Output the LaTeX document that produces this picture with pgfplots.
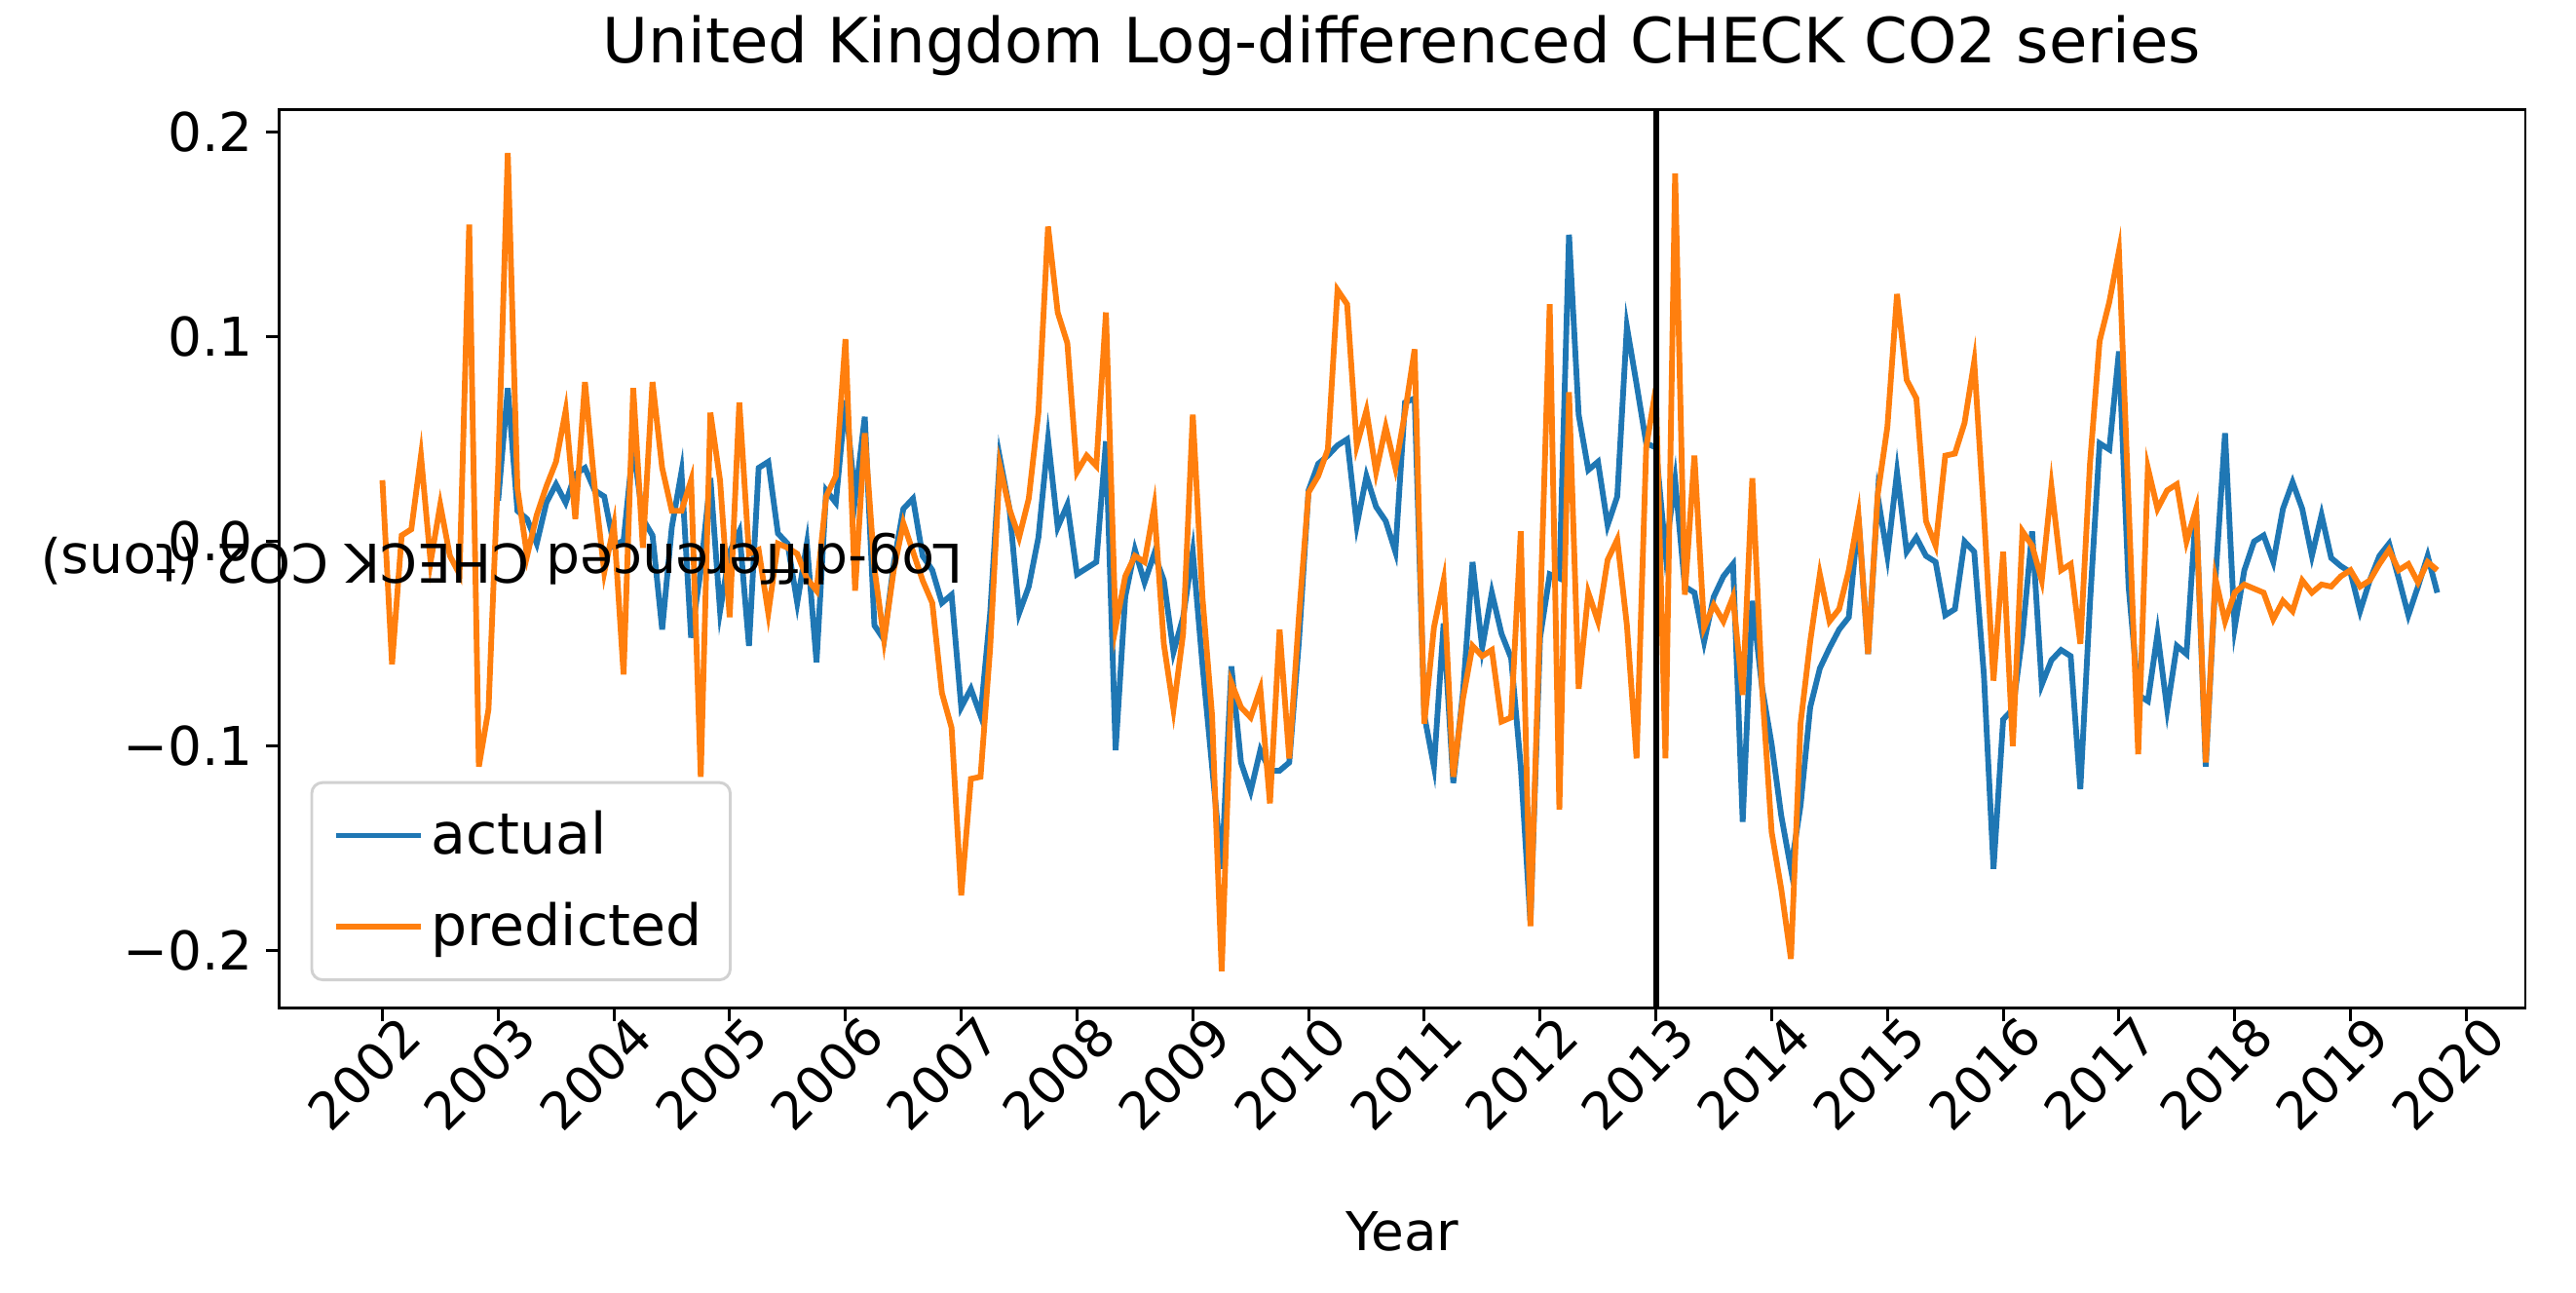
\documentclass[border=0pt]{standalone}
\usepackage{pgfplots}
\pgfplotsset{compat=1.18}
\usepackage{pgfplotstable}
\usepackage{fontspec}
\setmainfont{DejaVu Sans}
\definecolor{tabblue}{HTML}{1F77B4}
\definecolor{taborange}{HTML}{FF7F0E}
\pgfplotstableread{
v
0.020
0.075
0.015
0.011
-0.001
0.019
0.028
0.019
0.033
0.036
0.025
0.022
-0.002
0.0005
0.047
0.011
0.003
-0.043
0.007
0.034
-0.047
-0.014
0.031
-0.034
-0.005
0.005
-0.051
0.036
0.039
0.004
-0.001
-0.030
-0.001
-0.059
0.025
0.019
0.069
0.021
0.061
-0.041
-0.048
-0.011
0.016
0.021
-0.007
-0.014
-0.030
-0.026
-0.081
-0.072
-0.085
-0.035
0.041
0.016
-0.035
-0.022
0.002
0.050
0.007
0.018
-0.016
-0.013
-0.010
0.049
-0.102
-0.027
-0.004
-0.020
-0.006
-0.019
-0.054
-0.037
-0.005
-0.060
-0.110
-0.160
-0.061
-0.108
-0.122
-0.102
-0.112
-0.112
-0.108
-0.049
0.025
0.038
0.042
0.047
0.050
0.008
0.032
0.017
0.010
-0.005
0.068
0.070
-0.085
-0.110
-0.040
-0.118
-0.074
-0.010
-0.052
-0.025
-0.045
-0.057
-0.110
-0.186
-0.047
-0.016
-0.018
0.150
0.062
0.035
0.039
0.008
0.022
0.105
0.077
0.048
0.046
-0.005
0.030
-0.022
-0.025
-0.049
-0.027
-0.017
-0.011
-0.137
-0.029
-0.071
-0.099
-0.134
-0.160
-0.129
-0.081
-0.062
-0.052
-0.043
-0.037
0.012
-0.055
0.022
-0.007
0.034
-0.005
0.002
-0.007
-0.010
-0.036
-0.033
0.000
-0.005
-0.065
-0.160
-0.087
-0.082
-0.046
0.005
-0.070
-0.058
-0.053
-0.056
-0.121
-0.030
0.048
0.045
0.093
-0.022
-0.075
-0.078
-0.045
-0.082
-0.051
-0.055
0.016
-0.110
-0.019
0.053
-0.042
-0.014
0.000
0.003
-0.010
0.016
0.029
0.016
-0.007
0.013
-0.008
-0.012
-0.015
-0.034
-0.019
-0.007
-0.001
-0.018
-0.036
-0.022
-0.007
-0.025
}\actual
\pgfplotstableread{
v
0.030
-0.060
0.003
0.006
0.042
-0.010
0.018
-0.007
-0.016
0.155
-0.110
-0.082
0.035
0.190
0.026
-0.007
0.013
0.027
0.039
0.064
0.011
0.078
0.027
-0.015
0.008
-0.065
0.075
-0.003
0.078
0.036
0.015
0.015
0.030
-0.115
0.063
0.030
-0.037
0.068
-0.006
-0.004
-0.035
-0.001
-0.003
-0.006
-0.018
-0.024
0.022
0.032
0.099
-0.024
0.053
-0.013
-0.048
-0.014
0.009
-0.005
-0.019
-0.030
-0.074
-0.091
-0.173
-0.116
-0.115
-0.052
0.037
0.016
0.002
0.021
0.063
0.154
0.112
0.097
0.034
0.042
0.037
0.112
-0.042
-0.017
-0.007
-0.010
0.017
-0.050
-0.082
-0.045
0.062
-0.027
-0.085
-0.210
-0.069
-0.081
-0.086
-0.072
-0.128
-0.043
-0.106
-0.037
0.024
0.032
0.045
0.123
0.116
0.047
0.064
0.034
0.056
0.036
0.063
0.094
-0.089
-0.042
-0.019
-0.115
-0.077
-0.051
-0.056
-0.053
-0.088
-0.086
0.005
-0.188
-0.036
0.116
-0.131
0.073
-0.072
-0.025
-0.039
-0.009
0.001
-0.041
-0.106
0.046
0.075
-0.106
0.180
-0.026
0.042
-0.042
-0.031
-0.039
-0.027
-0.075
0.031
-0.071
-0.142
-0.170
-0.204
-0.089
-0.049
-0.016
-0.039
-0.033
-0.014
0.013
-0.055
0.023
0.056
0.121
0.079
0.070
0.010
-0.002
0.042
0.043
0.058
0.088
0.014
-0.068
-0.005
-0.100
0.005
-0.002
-0.019
0.027
-0.014
-0.011
-0.050
0.038
0.098
0.117
0.142
0.019
-0.104
0.036
0.016
0.025
0.028
0.000
0.016
-0.108
-0.018
-0.039
-0.025
-0.021
-0.023
-0.025
-0.038
-0.029
-0.034
-0.019
-0.025
-0.021
-0.022
-0.017
-0.014
-0.022
-0.019
-0.011
-0.004
-0.014
-0.011
-0.020
-0.010
-0.014
}\predicted
\begin{document}
\begin{tikzpicture}
\begin{axis}[
  scale only axis,
  width=22.15cm, height=8.86cm,
  xmin=2001.106, xmax=2020.51,
  ymin=-0.2281, ymax=0.2112,
  xtick={2002,2003,...,2020},
  xticklabel style={rotate=45, anchor=north east, xshift=0.2cm, inner sep=1pt, font=\fontsize{14.5}{17}\selectfont, /pgf/number format/1000 sep={}},
  x tick label style={/pgf/number format/assume math mode=true},
  ytick={-0.2,-0.1,0,0.1,0.2},
  yticklabels={−0.2,−0.1,0.0,0.1,0.2},
  yticklabel style={font=\fontsize{15}{18}\selectfont},
  tick style={black, line width=0.8pt},
  tick align=outside, major tick length=0.13cm,
  xtick pos=bottom, ytick pos=left,
  axis line style={line width=0.8pt},
  title={United Kingdom Log-differenced CHECK CO2 series},
  title style={font=\fontsize{17.5}{21}\selectfont, at={(0.5,1)}, anchor=center, yshift=0.42cm},
  xlabel={Year},
  xlabel style={font=\fontsize{15}{18}\selectfont, at={(0.5,0)}, anchor=center, yshift=-2.2cm},
  ylabel={Log-differenced CHECK CO2 (tons)},
  ylabel style={font=\fontsize{15}{18}\selectfont, at={(0,0.5)}, anchor=center, rotate=90, xshift=-2.2cm},
  legend style={at={(0.014,0.03)}, anchor=south west, font=\fontsize{16}{19}\selectfont, draw=black!18, rounded corners=3pt, line width=0.8pt, inner sep=6pt, row sep=8pt},
  legend cell align=left,
  legend image post style={xscale=1.4},
]
\addplot[tabblue, line width=1.6pt] table[x expr=2003+\coordindex/12, y=v] {\actual};
\addlegendentry{actual}
\addplot[taborange, line width=1.6pt] table[x expr=2002+\coordindex/12, y=v] {\predicted};
\addlegendentry{predicted}
\addplot[black, line width=1.6pt, forget plot] coordinates {(2013,-0.3) (2013,0.3)};
\end{axis}
\path (current axis.south west) ++(-2.75cm,-2.8cm) rectangle ++(25.4cm,12.74cm);
\end{tikzpicture}
\end{document}
